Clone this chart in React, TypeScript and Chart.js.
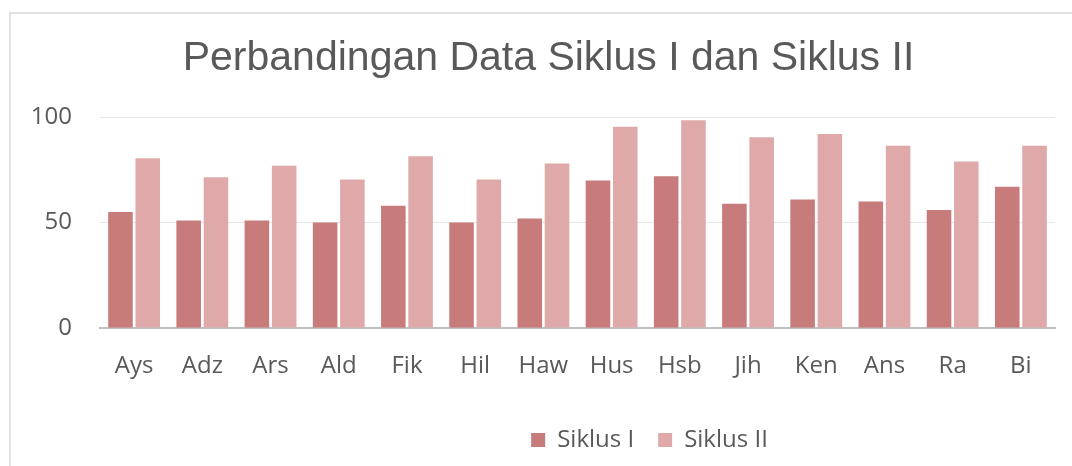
import React, { useEffect, useRef } from "react";
import { Chart, registerables } from "chart.js";

Chart.register(...registerables);

const categories = ["Ays", "Adz", "Ars", "Ald", "Fik", "Hil", "Haw", "Hus", "Hsb", "Jih", "Ken", "Ans", "Ra", "Bi"];
const siklusI = [55, 51, 51, 50, 58, 50, 52, 70, 72, 59, 61, 60, 56, 67];
const siklusII = [80.5, 71.5, 77, 70.5, 81.5, 70.5, 78, 95.5, 98.5, 90.5, 92, 86.5, 79, 86.5];
const yTicks = [0, 50, 100];
const seriesNames = ["Siklus I", "Siklus II"];
const titleText = "Perbandingan Data Siklus I dan Siklus II";

const shiftBoxes = {
  id: "shiftBoxes",
  afterLayout(chart: any) {
    const lg = chart.legend;
    if (lg) {
      lg.left += 112;
      lg.right += 112;
    }
    const t = chart.titleBlock;
    if (t) {
      t.left += 11;
      t.right += 11;
    }
  },
};

export default function App() {
  const ref = useRef<HTMLCanvasElement | null>(null);
  useEffect(() => {
    document.body.style.margin = "0";
    if (!ref.current) return;
    const chart = new Chart(ref.current, {
      type: "bar",
      data: {
        labels: categories,
        datasets: [
          { label: seriesNames[0], data: siklusI, backgroundColor: "#c77b7b", borderWidth: 0, inflateAmount: 0 },
          { label: seriesNames[1], data: siklusII, backgroundColor: "#e0a9a9", borderWidth: 0, inflateAmount: 0 },
        ],
      },
      plugins: [shiftBoxes],
      options: {
        animation: false,
        responsive: false,
        layout: { padding: { left: 20, right: 17, top: 0, bottom: 4 } },
        plugins: {
          title: {
            display: true,
            text: titleText,
            color: "#595959",
            font: { family: "Liberation Sans", size: 41, weight: "normal" },
            padding: { top: 34, bottom: 34 },
          },
          legend: {
            position: "bottom",
            labels: {
              color: "#595959",
              font: { family: "Open Sans", size: 24 },
              boxWidth: 14,
              boxHeight: 14,
              padding: 24,
            },
          },
          tooltip: { enabled: false },
        },
        scales: {
          x: {
            afterFit(scale: any) {
              scale.height = 76;
            },
            grid: { display: false, drawTicks: false },
            border: { color: "#bfbfbf", width: 2 },
            ticks: { color: "#595959", font: { family: "Open Sans", size: 24 }, padding: 24 },
            categoryPercentage: 0.64,
            barPercentage: 1.04,
          },
          y: {
            min: 0,
            max: 100,
            afterFit(scale: any) {
              scale.width = 80;
            },
            afterBuildTicks(scale: any) {
              scale.ticks = yTicks.map((v) => ({ value: v }));
            },
            grid: { color: "#e6e6e6", drawTicks: false },
            border: { display: false },
            ticks: { color: "#595959", font: { family: "Open Sans", size: 24 }, padding: 28 },
          },
        },
      },
    });
    return () => chart.destroy();
  }, []);
  return (
    <div style={{ position: "relative", width: 1072, height: 466, overflow: "hidden", background: "#fff" }}>
      <div
        style={{
          position: "absolute",
          left: 9,
          top: 12,
          width: 1200,
          height: 600,
          borderLeft: "2px solid #e2e2e2",
          borderTop: "2px solid #e2e2e2",
        }}
      />
      <canvas ref={ref} width={1072} height={466} style={{ position: "absolute", left: 0, top: 0 }} />
    </div>
  );
}
